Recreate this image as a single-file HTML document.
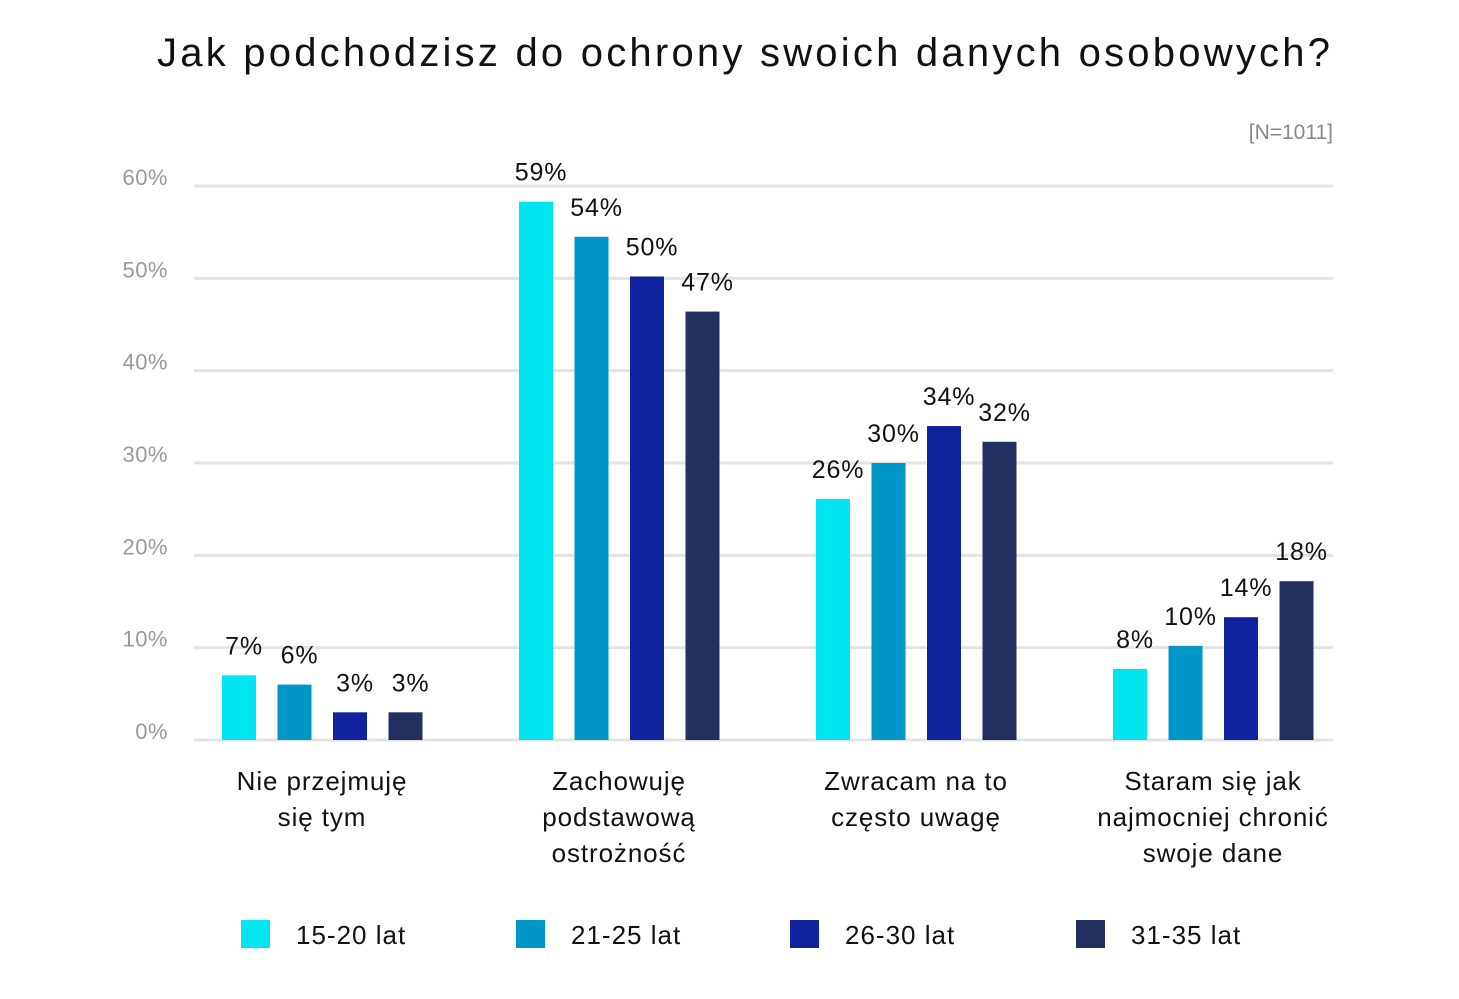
<!DOCTYPE html>
<html><head><meta charset="utf-8"><style>
body{margin:0;background:#fff;font-family:"Liberation Sans","DejaVu Sans",sans-serif;}
svg text{font-family:"Liberation Sans","DejaVu Sans",sans-serif;}
</style></head><body>
<svg id="chart" width="1459" height="994" viewBox="0 0 1459 994">
<text x="157" y="66" textLength="1173" lengthAdjust="spacing" font-size="40" fill="#111">Jak podchodzisz do ochrony swoich danych osobowych?</text>
<text x="1333" y="139" text-anchor="end" font-size="21" fill="#888">[N=1011]</text>
<g id="grid"></g><g id="bars"></g><g id="cats"></g><g id="legend"></g>
</svg>
<script>
const categories=[["Nie przejmuję","się tym"],["Zachowuję","podstawową","ostrożność"],["Zwracam na to","często uwagę"],["Staram się jak","najmocniej chronić","swoje dane"]];
const seriesNames=["15-20 lat","21-25 lat","26-30 lat","31-35 lat"];
const s1=[7,58.3,26.1,7.7];
const s2=[6,54.5,30,10.2];
const s3=[3,50.2,34,13.3];
const s4=[3,46.4,32.3,17.2];
const l1=["7%","59%","26%","8%"];
const l2=["6%","54%","30%","10%"];
const l3=["3%","50%","34%","14%"];
const l4=["3%","47%","32%","18%"];
const ticks=[0,10,20,30,40,50,60];
const tickLabels=["0%","10%","20%","30%","40%","50%","60%"];
const colors=["#00E5EF","#0096C8","#10239E","#23305F"];
const NS="http://www.w3.org/2000/svg";
const y0=740,pxPer=(740-186)/60;
const y=v=>y0-v*pxPer;
const groupX=i=>322+i*297;
function mk(t,a,p){const e=document.createElementNS(NS,t);for(const k in a)e.setAttribute(k,a[k]);p.appendChild(e);return e;}
const grid=document.getElementById('grid');
ticks.forEach((t,i)=>{
 const l=mk('line',{x1:194,x2:1333,y1:y(t),y2:y(t),stroke:'#e3e3e3','stroke-width':3},grid);
 
 
 const tx=mk('text',{x:168,y:y(t)-1,'text-anchor':'end','font-size':22,fill:'#999','letter-spacing':0.5},grid);
 tx.textContent=tickLabels[i];
 
 
});
const series=[s1,s2,s3,s4],labels=[l1,l2,l3,l4];
const bars=document.getElementById('bars');
categories.forEach((c,i)=>{
 series.forEach((s,j)=>{
  const x=groupX(i)+(j-2)*55.5+11;
  const r=mk('rect',{x:x,y:y(s[i]),width:34,height:y0-y(s[i]),fill:colors[j]},bars);
  
  
  const t=mk('text',{x:x+22,y:y(s[i])-21,'text-anchor':'middle','font-size':25,fill:'#111','letter-spacing':0.8},bars);
  t.textContent=labels[j][i];
  
  
 });
 c.forEach((line,k)=>{
  const t=mk('text',{x:groupX(i),y:790+k*36,'text-anchor':'middle','font-size':26,fill:'#111','letter-spacing':0.9},document.getElementById('cats'));
  t.textContent=line;
  
  
 });
});
const lx=[241,516,790,1076];
const lg=document.getElementById('legend');
seriesNames.forEach((n,j)=>{
 const r=mk('rect',{x:lx[j],y:920,width:29,height:28,fill:colors[j]},lg);
 
 
 const t=mk('text',{x:lx[j]+55,y:944,'font-size':26,fill:'#111','letter-spacing':1},lg);
 t.textContent=n;
 
 
});
</script>
</body></html>
